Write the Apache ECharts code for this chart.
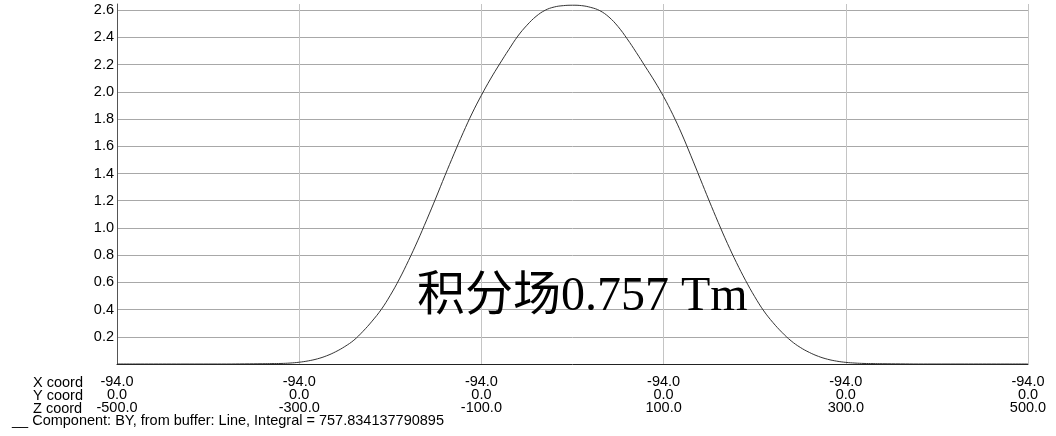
<!DOCTYPE html>
<html>
<head>
<meta charset="utf-8">
<script src="https://cdn.jsdelivr.net/npm/echarts@6/dist/echarts.min.js"></script>
<style>
html,body{margin:0;padding:0;background:#fff;}
#chart{width:1056px;height:436px;}
</style>
</head>
<body>
<div id="chart"></div>
<script>
// Z coordinate (mm) of each sample
const zCoords = [-500,-480,-460,-440,-420,-400,-380,-360,-340,-330,-320,-310,-300,-290,-280,-270,-260,-250,-240,-230,-220,-210,-200,-190,-180,-170,-160,-150,-140,-130,-120,-110,-100,-90,-80,-70,-60,-50,-40,-30,-20,-10,0,10,20,30,40,50,60,70,80,90,100,110,120,130,140,150,160,170,180,190,200,210,220,230,240,250,260,270,280,290,300,310,320,330,340,360,380,400,420,440,460,480,500];
// Field component BY (T)
const fieldBY = [0,0,0,0,0,0,0,0.001,0.002,0.003,0.004,0.007,0.013,0.023,0.038,0.06,0.09,0.128,0.175,0.24,0.315,0.40,0.505,0.625,0.76,0.905,1.06,1.22,1.385,1.545,1.70,1.845,1.975,2.095,2.205,2.31,2.41,2.49,2.555,2.60,2.624,2.634,2.637,2.634,2.621,2.597,2.55,2.48,2.39,2.29,2.185,2.08,1.965,1.835,1.69,1.53,1.365,1.20,1.04,0.887,0.745,0.614,0.495,0.39,0.305,0.232,0.17,0.122,0.085,0.056,0.035,0.021,0.012,0.007,0.004,0.003,0.002,0.001,0,0,0,0,0,0,0];
// Tick labels of the bottom axis
const zTicks = [-500,-300,-100,100,300,500];
const xCoordLabels = ['-94.0','-94.0','-94.0','-94.0','-94.0','-94.0'];
const yCoordLabels = ['0.0','0.0','0.0','0.0','0.0','0.0'];
const zCoordLabels = ['-500.0','-300.0','-100.0','100.0','300.0','500.0'];
const rowNames = ['X coord','Y coord','Z coord'];
const seriesName = 'Component: BY, from buffer: Line, Integral = 757.834137790895';
const overlayText = '积分场0.757 Tm';

const chart = echarts.init(document.getElementById('chart'), null, {renderer:'canvas'});
const labelFont = '"Liberation Sans", Arial, sans-serif';
const data = zCoords.map((z,i)=>[z, fieldBY[i]]);

chart.setOption({
  animation:false,
  backgroundColor:'#fff',
  grid:{left:117, right:28, top:4, bottom:72, containLabel:false},
  legend:{
    data:[seriesName], left:7, top:413, padding:0,
    icon:'none', itemWidth:0, itemHeight:14, selectedMode:false,
    formatter: n => '__ ' + n,
    textStyle:{fontFamily:labelFont, fontSize:14.5, color:'#000', lineHeight:14}
  },
  xAxis:{
    type:'value', min:-500, max:500, interval:200,
    axisLine:{show:true, onZero:false, lineStyle:{color:'#222', width:1}},
    axisTick:{show:false},
    splitLine:{show:true, showMinLine:false, showMaxLine:true, lineStyle:{color:'#c4c4c4', width:1}},
    axisLabel:{
      show:true, margin:11, showMinLabel:true, showMaxLabel:true,
      fontFamily:labelFont, fontSize:14.5, color:'#000', lineHeight:13.3, align:'center',
      formatter: v => { const i = zTicks.indexOf(Math.round(v)); return i<0 ? '' : xCoordLabels[i]+'\n'+yCoordLabels[i]+'\n'+zCoordLabels[i]; }
    }
  },
  yAxis:{
    type:'value', min:0, max:2.646, interval:0.2,
    axisLine:{show:true, onZero:false, lineStyle:{color:'#555', width:1}},
    axisTick:{show:false},
    splitLine:{show:true, showMinLine:false, showMaxLine:false, lineStyle:{color:'#a8a8a8', width:1}},
    axisLabel:{
      margin:3, showMinLabel:false, showMaxLabel:false,
      fontFamily:labelFont, fontSize:14.5, color:'#000', padding:[5,0,0,0],
      formatter: v => v.toFixed(1)
    }
  },
  series:[{
    name:seriesName, type:'line', data:data,
    showSymbol:false, symbol:'none', smooth:0.4,
    lineStyle:{color:'#333', width:1}, itemStyle:{color:'#333'},
    z:3
  }],
  graphic:[
    {type:'text', left:33, top:375, z:10, style:{text:rowNames.join('\n'), font:'14.5px '+labelFont, lineHeight:13.3, fill:'#000'}},
    {type:'text', x:417, y:297, z:10, style:{text:overlayText, fontSize:48, fontFamily:'"Liberation Serif", "Times New Roman", "Noto Sans CJK SC", serif', fill:'#000', verticalAlign:'middle', align:'left'}}
  ]
});
</script>
</body>
</html>
